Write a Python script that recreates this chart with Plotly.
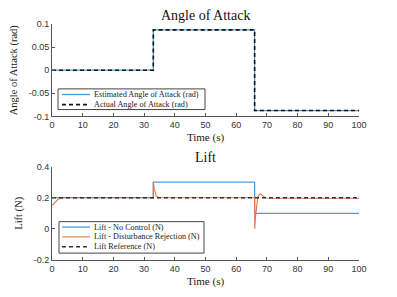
import plotly.graph_objects as go

# ---------------- data ----------------
aoa_time = [0, 33, 66, 100]
aoa_est = [0.0, 0.0873, -0.0873, -0.0873]
aoa_act = [0.0, 0.0873, -0.0873, -0.0873]

lift_nc_time = [0, 33, 66, 100]
lift_nc = [0.2, 0.3, 0.1, 0.1]

lift_dr_time = [0, 0.3, 0.7, 1.0, 1.5, 2.0, 2.5, 3.0, 4.0, 33.0, 33.03, 33.3, 33.6, 34.0, 34.5, 35.0,
                66.0, 66.05, 66.3, 66.6, 67.0, 67.5, 68.0, 68.5, 69.0, 69.5, 70.0, 72.0, 100]
lift_dr = [0.152, 0.155, 0.165, 0.172, 0.182, 0.19, 0.195, 0.198, 0.2, 0.2, 0.3, 0.255, 0.228, 0.21, 0.203, 0.2,
           0.2, 0.0, 0.08, 0.15, 0.2, 0.22, 0.224, 0.215, 0.205, 0.2, 0.198, 0.197, 0.197]

ref_time = [0, 100]
lift_ref = [0.2, 0.2]

x_ticks = [0, 10, 20, 30, 40, 50, 60, 70, 80, 90, 100]
aoa_ticks = [-0.1, -0.05, 0, 0.05, 0.1]
aoa_tick_text = ["-0.1", "-0.05", "0", "0.05", "0.1"]
lift_ticks = [-0.2, 0, 0.2, 0.4]
lift_tick_text = ["-0.2", "0", "0.2", "0.4"]

top_legend = ["Estimated Angle of Attack (rad)", "Actual Angle of Attack (rad)"]
bottom_legend = ["Lift - No Control (N)", "Lift - Disturbance Rejection (N)", "Lift Reference (N)"]

BLUE = "#4a9ddb"
ORANGE = "#e2784a"
DARK = "#151515"
SERIF = "Liberation Serif, DejaVu Serif, serif"
SANS = "Liberation Sans, Arial, sans-serif"
DASH = "4px,3px"

W, H = 397, 297
L, R, T, B = 52, 38, 24, 33
PW, PH = W - L - R, H - T - B


def px(xw):  # window pixel x -> paper
    return (xw - L) / PW


def py(yw):  # window pixel y -> paper
    return (H - B - yw) / PH


fig = go.Figure()
fig.add_trace(go.Scatter(x=aoa_time, y=aoa_est, mode="lines", line=dict(color=BLUE, width=1.3, shape="hv"),
                         name=top_legend[0], xaxis="x", yaxis="y", showlegend=False))
fig.add_trace(go.Scatter(x=aoa_time, y=aoa_act, mode="lines", line=dict(color=DARK, width=1.6, shape="hv", dash=DASH),
                         name=top_legend[1], xaxis="x", yaxis="y", showlegend=False))

fig.add_trace(go.Scatter(x=lift_nc_time, y=lift_nc, mode="lines", line=dict(color=BLUE, width=1.3, shape="hv"),
                         name=bottom_legend[0], xaxis="x2", yaxis="y2", showlegend=False))
fig.add_trace(go.Scatter(x=lift_dr_time, y=lift_dr, mode="lines", line=dict(color=ORANGE, width=1.1),
                         name=bottom_legend[1], xaxis="x2", yaxis="y2", showlegend=False))
fig.add_trace(go.Scatter(x=ref_time, y=lift_ref, mode="lines", line=dict(color="#333333", width=1.5, dash=DASH),
                         name=bottom_legend[2], xaxis="x2", yaxis="y2", showlegend=False))

axis_common = dict(showline=True, linecolor="#555555", linewidth=1, ticks="inside", ticklen=3,
                   tickcolor="#555555", showgrid=False, zeroline=False, mirror=False,
                   tickfont=dict(family=SANS, size=9, color="#333333"))
title_font = dict(family=SERIF, size=11, color="#222")

shapes = []
annotations = []


def add_legend(box, entries, styles, ys):
    x0, y0, x1, y1 = box
    shapes.append(dict(type="rect", xref="paper", yref="paper", x0=px(x0), x1=px(x1), y0=py(y1), y1=py(y0),
                       line=dict(color="#444444", width=1), fillcolor="white", layer="above"))
    for text, st, yy in zip(entries, styles, ys):
        shapes.append(dict(type="line", xref="paper", yref="paper", x0=px(62), x1=px(90), y0=py(yy), y1=py(yy),
                           line=st, layer="above"))
        annotations.append(dict(text=text, x=px(92), y=py(yy), xref="paper", yref="paper", showarrow=False,
                                xanchor="left", yanchor="middle",
                                font=dict(family=SERIF, size=8.2, color="#222")))


add_legend((58, 90, 205, 111), top_legend,
           [dict(color=BLUE, width=1.3), dict(color=DARK, width=1.6, dash=DASH)], [95.7, 106])
add_legend((59, 225, 204, 257), bottom_legend,
           [dict(color=BLUE, width=1.3), dict(color=ORANGE, width=1.1), dict(color="#333333", width=1.5, dash=DASH)],
           [230.5, 240.5, 250.5])

annotations.append(dict(text="Angle of Attack", x=0.5, y=py(15), xref="paper", yref="paper", showarrow=False,
                        xanchor="center", yanchor="middle",
                        font=dict(family=SERIF, size=14, color="#111")))
annotations.append(dict(text="Lift", x=0.5, y=py(160), xref="paper", yref="paper", showarrow=False,
                        xanchor="center", yanchor="middle",
                        font=dict(family=SERIF, size=14, color="#111")))

fig.update_layout(
    width=W, height=H,
    margin=dict(l=L, r=R, t=T, b=B),
    paper_bgcolor="white", plot_bgcolor="white",
    showlegend=False,
    xaxis=dict(domain=[0, 1], range=[0, 100], anchor="y", tickvals=x_ticks,
               title=dict(text="Time (s)", font=title_font, standoff=4), **axis_common),
    yaxis=dict(domain=[py(118), 1], range=[-0.1, 0.1], anchor="x", tickvals=aoa_ticks, ticktext=aoa_tick_text,
               title=dict(text="Angle of Attack (rad)", font=dict(family=SERIF, size=10.5, color="#222"), standoff=8),
               **axis_common),
    xaxis2=dict(domain=[0, 1], range=[0, 100], anchor="y2", tickvals=x_ticks,
                title=dict(text="Time (s)", font=title_font, standoff=4), **axis_common),
    yaxis2=dict(domain=[0, py(169)], range=[-0.2, 0.4], anchor="x2", tickvals=lift_ticks, ticktext=lift_tick_text,
                title=dict(text="Lift (N)", font=dict(family=SERIF, size=10.5, color="#222"), standoff=8),
                **axis_common),
    shapes=shapes,
    annotations=annotations,
)

fig.write_html("out.html", config={"displayModeBar": False, "staticPlot": True},
               post_script="document.body.style.margin='0';document.body.style.overflow='hidden';")
